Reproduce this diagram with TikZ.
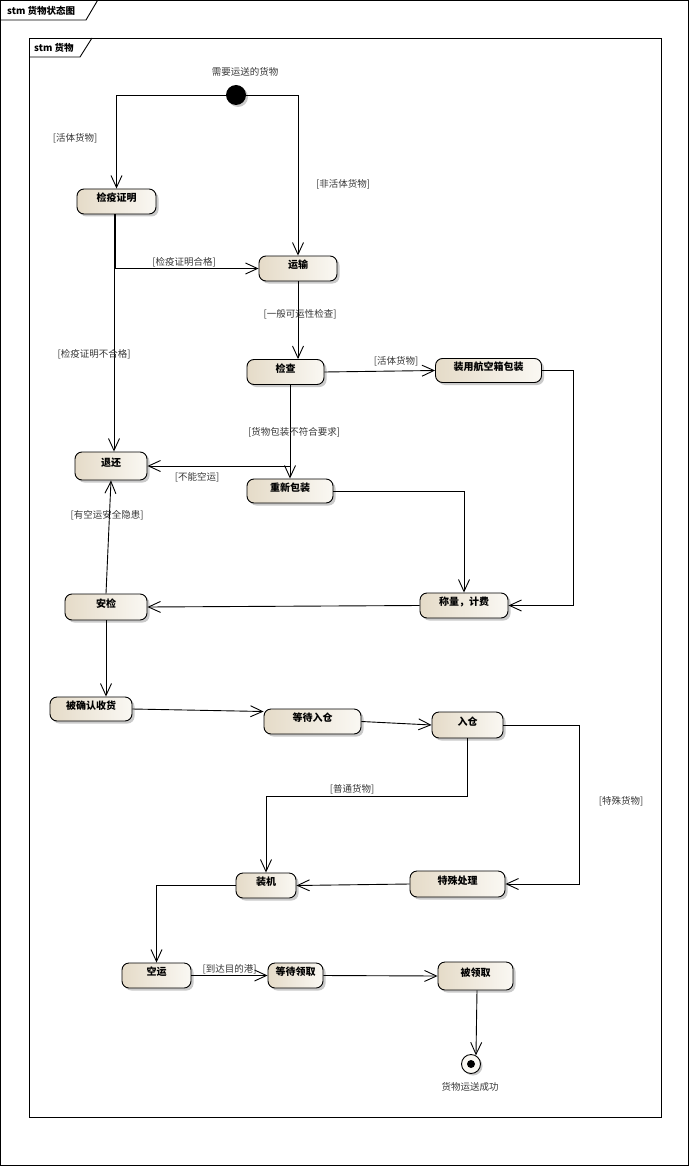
\documentclass[tikz,border=0pt]{standalone}
\usepackage{fontspec}
\newfontfamily\cjk{Noto Sans CJK SC}
\usepackage{tikz}
\usetikzlibrary{positioning, arrows.meta, calc, shadows}
\definecolor{stLight}{RGB}{250,248,243}
\definecolor{stDark}{RGB}{229,219,200}
\definecolor{lblGray}{RGB}{55,55,55}

\begin{document}
\begin{tikzpicture}[
    x=1pt, y=-1pt,
    font=\cjk,
    frame/.style={draw, line width=0.9pt},
    tab/.style={font=\cjk\bfseries\fontsize{9.5}{11}\selectfont, inner sep=0pt, anchor=west},
    state/.style={draw, line width=0.9pt, rounded corners=7pt,
                  left color=stDark, right color=stLight,
                  drop shadow={shadow xshift=2.5pt, shadow yshift=-2.5pt, fill=black!35, opacity=0.6},
                  font=\cjk\bfseries\fontsize{10}{12}\selectfont,
                  minimum height=25pt, inner sep=0pt, text height=8pt, text depth=8pt},
    init/.style={circle, fill=black, minimum size=20pt, inner sep=0pt,
                 drop shadow={shadow xshift=2pt, shadow yshift=-2pt, fill=black!35, opacity=0.6}},
    fin/.style={circle, draw, line width=0.9pt, fill=stLight, minimum size=19pt, inner sep=0pt,
                drop shadow={shadow xshift=2pt, shadow yshift=-2pt, fill=black!35, opacity=0.6},
                path picture={\fill[black] (path picture bounding box.center) circle (4pt);}},
    lbl/.style={font=\cjk\fontsize{9.5}{11}\selectfont, text=lblGray, inner sep=1pt},
    tr/.style={draw, line width=0.9pt, -{Straight Barb[length=12pt, width=11pt]}},
  ]
\useasboundingbox (0,0) rectangle (689,1166);

\draw[frame] (0.5,0.5) rectangle (688.5,1165.5);
\draw[frame] (0.5,20) -- (86,20) -- (97.5,0.5);
\node[tab] (tab1) at (7,11) {stm 货物状态图};
\draw[frame] (29,38) rectangle (661.5,1117.5);
\draw[frame] (29,57) -- (80,57) -- (92,38);
\node[tab] (tab2) at (34,47.5) {stm 货物};

\node[init] (start) at (236,95) {};
\node[lbl] (startl) at (245,72) {需要运送的货物};

\node[state, minimum width=79pt] (jyzm) at (116.5,201.5) {检疫证明};
\node[state, minimum width=78pt] (ys) at (298,268.5) {运输};
\node[state, minimum width=77pt] (jc) at (285.5,372) {检查};
\node[state, minimum width=106pt, minimum height=24pt] (zyhk) at (488.5,370.5) {装用航空箱包装};
\node[state, minimum width=72pt, minimum height=28pt] (th) at (111,466) {退还};
\node[state, minimum width=86pt, minimum height=24pt] (cxbz) at (290,491) {重新包装};
\node[state, minimum width=88pt] (clf) at (464,605.5) {称量，计费};
\node[state, minimum width=82pt, minimum height=26pt] (aj) at (106,607) {安检};
\node[state, minimum width=82pt, minimum height=24pt] (bqrsh) at (91,709) {被确认收货};
\node[state, minimum width=97pt] (ddrc) at (312.5,721.5) {等待入仓};
\node[state, minimum width=71pt, minimum height=26pt] (rc) at (467.5,725) {入仓};
\node[state, minimum width=60pt] (zj) at (266,885.5) {装机};
\node[state, minimum width=95pt, minimum height=26pt] (tsc) at (457.5,884) {特殊处理};
\node[state, minimum width=69pt] (ky) at (156.5,975.5) {空运};
\node[state, minimum width=55pt] (ddlq) at (295.5,975.5) {等待领取};
\node[state, minimum width=75pt, minimum height=28pt] (blq) at (475.5,976) {被领取};

\node[fin] (end) at (471,1064) {};
\node[lbl] (endl) at (470,1087) {货物运送成功};

\draw[tr] (start.west) -| (jyzm.north);
\draw[tr] (start.east) -| (ys.north);
\coordinate (jy1) at ($(jyzm.south)+(-2.5,0)$);
\coordinate (jy2) at ($(jyzm.south)+(-1.3,0)$);
\draw[tr] (jy2) |- (ys.west);
\draw[tr] (jy1) -- (jy1 |- th.north);
\draw[tr] (ys.south) -- (ys.south |- jc.north);
\draw[tr] (jc.east) -- (zyhk.west);
\coordinate (jc1) at (jc.south -| cxbz.north);
\draw[tr] (jc1) -- (cxbz.north);
\draw[tr] (jc1) |- (th.east);
\draw[tr] (cxbz.east) -| (clf.north);
\coordinate (zy1) at ($(zyhk.east)+(31,0)$);
\draw[tr] (zyhk.east) -- (zy1) |- (clf.east);
\draw[tr] (clf.west) -- (aj.east);
\draw[tr] (aj.north) -- (th.south);
\draw[tr] (aj.south) -- (aj.south |- bqrsh.north);
\draw[tr] (bqrsh.east) -- ($(ddrc.west)+(0,-10)$);
\draw[tr] (ddrc.east) -- (rc.west);
\draw[tr] (rc.south) |- ($(zj.north)+(0,-76)$) -- (zj.north);
\draw[tr] (rc.east) -| ($(tsc.east)+(74,0)$) -- (tsc.east);
\draw[tr] (tsc.west) -- (zj.east);
\draw[tr] (zj.west) -| (ky.north);
\draw[tr] (ky.east) -- (ddlq.west);
\draw[tr] (ddlq.east) -- (blq.west);
\draw[tr] ($(blq.south)+(1.5,0)$) -- (end.60);

\node[lbl] (g1) at (75,138) {[活体货物]};
\node[lbl] (g2) at (343,184) {[非活体货物]};
\node[lbl] (g3) at (184,262) {[检疫证明合格]};
\node[lbl] (g4) at (94,354) {[检疫证明不合格]};
\node[lbl] (g5) at (300,314) {[一般可运性检查]};
\node[lbl] (g6) at (396,361) {[活体货物]};
\node[lbl] (g7) at (294,432) {[货物包装不符合要求]};
\node[lbl] (g8) at (197,477) {[不能空运]};
\node[lbl] (g9) at (107,515) {[有空运安全隐患]};
\node[lbl] (g10) at (352,789) {[普通货物]};
\node[lbl] (g11) at (621,801) {[特殊货物]};
\node[lbl] (g12) at (229.5,969) {[到达目的港]};
\end{tikzpicture}
\end{document}
